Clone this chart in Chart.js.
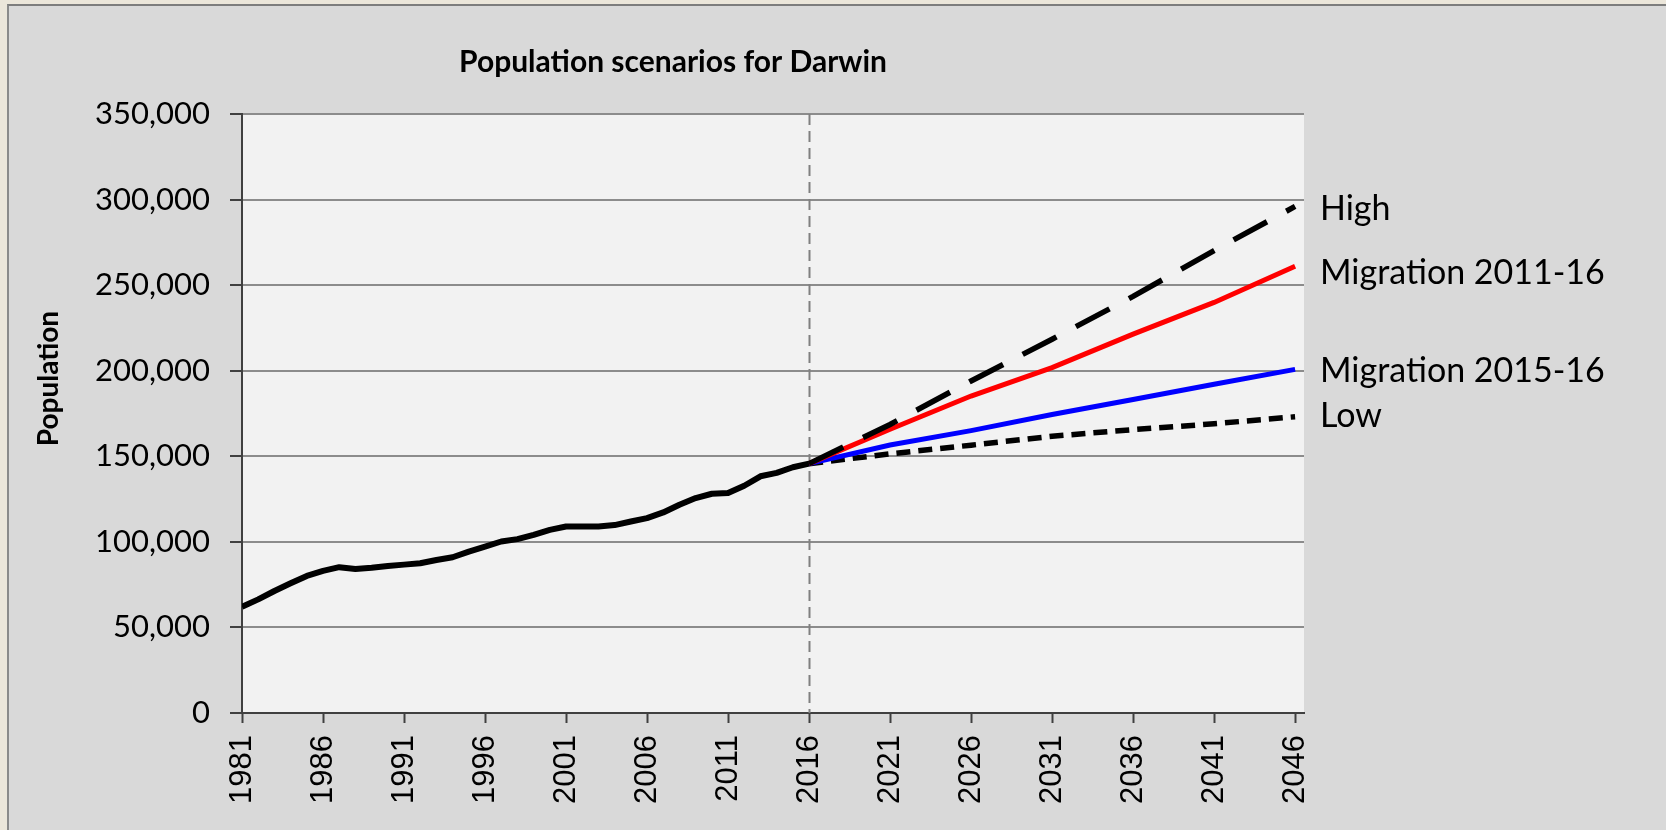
<!DOCTYPE html>
<html>
<head>
<meta charset="utf-8">
<title>Population scenarios for Darwin</title>
<script src="https://cdn.jsdelivr.net/npm/chart.js@4.4.1/dist/chart.umd.min.js"></script>
<style>
  html, body { margin: 0; padding: 0; }
  body {
    width: 1666px; height: 830px; overflow: hidden;
    background: #ebe6da;
    position: relative;
  }
  .panel {
    position: absolute; left: 7px; top: 4px; right: 0; bottom: 0;
    background: #d9d9d9;
    border-top: 2px solid #7d7d7d;
    border-left: 2px solid #8a8a8a;
  }
  .chart-box { position: absolute; left: 0; top: 0; width: 1666px; height: 830px; }
</style>
</head>
<body>
<div class="panel"></div>
<div class="chart-box"><canvas id="chart-darwin"></canvas></div>
<script>
// ---- Data ----
const histYears = [1981, 1982, 1983, 1984, 1985, 1986, 1987, 1988, 1989, 1990, 1991, 1992,
  1993, 1994, 1995, 1996, 1997, 1998, 1999, 2000, 2001, 2002, 2003, 2004, 2005, 2006,
  2007, 2008, 2009, 2010, 2011, 2012, 2013, 2014, 2015, 2016];
const histPopulation = [62100, 66400, 71300, 75800, 80100, 83000, 85200, 84200, 84900, 85900,
  86700, 87500, 89400, 91000, 94300, 97200, 100200, 101600, 104100, 107000, 109000, 109000,
  109000, 109800, 111900, 113900, 117200, 121700, 125600, 128100, 128500, 132800, 138300,
  140300, 143600, 145700];

const projYears = [2016, 2021, 2026, 2031, 2036, 2041, 2046];
const highScenario = [145700, 168600, 194000, 218400, 243400, 270200, 296000];
const migration1116 = [145700, 165800, 185200, 201800, 221400, 239900, 261000];
const migration1516 = [145700, 156600, 165000, 174400, 183200, 192100, 200800];
const lowScenario = [145700, 151400, 156500, 161700, 165600, 169000, 173100];

const xTickYears = [1981, 1986, 1991, 1996, 2001, 2006, 2011, 2016, 2021, 2026, 2031, 2036, 2041, 2046];
const yTicks = [0, 50000, 100000, 150000, 200000, 250000, 300000, 350000];
const forecastStart = 2016;

const seriesLabels = ['High', 'Migration 2011-16', 'Migration 2015-16', 'Low'];

const toPoints = (xs, ys) => xs.map((x, i) => ({ x, y: ys[i] }));

// plot background + dashed 2016 marker
const plotBackground = {
  id: 'plotBackground',
  beforeDraw(chart) {
    const { ctx, chartArea: a } = chart;
    ctx.save();
    ctx.fillStyle = '#f2f2f2';
    ctx.fillRect(a.left, a.top, a.right - a.left, a.bottom - a.top);
    ctx.restore();
  },
  beforeDatasetsDraw(chart) {
    const { ctx, chartArea: a, scales } = chart;
    const x = Math.round(scales.x.getPixelForValue(forecastStart)) + 0.5;
    ctx.save();
    ctx.strokeStyle = '#808080';
    ctx.lineWidth = 2;
    ctx.setLineDash([11, 6]);
    ctx.beginPath();
    ctx.moveTo(x, a.top);
    ctx.lineTo(x, a.bottom);
    ctx.stroke();
    ctx.restore();
  }
};

// y-axis title and the series names at the right of the plot
const sideText = {
  id: 'sideText',
  afterDraw(chart) {
    const { ctx, chartArea: a, scales } = chart;
    ctx.save();
    ctx.fillStyle = '#000';

    // "Population"
    ctx.font = 'bold 28px Lato';
    ctx.textAlign = 'center';
    ctx.textBaseline = 'middle';
    ctx.translate(scales.y.left + 7, (a.top + a.bottom) / 2 - 35);
    ctx.rotate(-Math.PI / 2);
    ctx.fillText('Population', 0, 0);
    ctx.setTransform(1, 0, 0, 1, 0, 0);

    // series names, placed next to each line end
    const ends = [highScenario, migration1116, migration1516, lowScenario].map(s => s[s.length - 1]);
    const nudge = [1, 5, 0, -2];
    const size = 34;
    ctx.font = size + 'px Lato';
    ctx.textAlign = 'left';
    ctx.textBaseline = 'alphabetic';
    seriesLabels.forEach((txt, i) => {
      const yc = scales.y.getPixelForValue(ends[i]) + nudge[i];
      ctx.fillText(txt, a.right + 16, yc + size * 0.36);
    });
    ctx.restore();
  }
};

const canvas = document.getElementById('chart-darwin');

new Chart(canvas, {
  type: 'line',
  data: {
    datasets: [
      {
        label: 'Historical',
        data: toPoints(histYears, histPopulation),
        borderColor: '#000',
        borderWidth: 6,
        borderJoinStyle: 'round',
        order: 0
      },
      {
        label: seriesLabels[0],
        data: toPoints(projYears, highScenario),
        borderColor: '#000',
        borderWidth: 5.5,
        borderDash: [38, 22],
        order: 1
      },
      {
        label: seriesLabels[1],
        data: toPoints(projYears, migration1116),
        borderColor: '#ff0000',
        borderWidth: 5,
        order: 2
      },
      {
        label: seriesLabels[2],
        data: toPoints(projYears, migration1516),
        borderColor: '#0000ff',
        borderWidth: 5,
        order: 3
      },
      {
        label: seriesLabels[3],
        data: toPoints(projYears, lowScenario),
        borderColor: '#000',
        borderWidth: 5.5,
        borderDash: [14, 8],
        order: 4
      }
    ]
  },
  options: {
    responsive: true,
    maintainAspectRatio: false,
    animation: false,
    devicePixelRatio: 1,
    elements: {
      point: { radius: 0, hoverRadius: 0 },
      line: { tension: 0, fill: false }
    },
    layout: { padding: { left: 42, right: 362, top: 0, bottom: 0 } },
    plugins: {
      legend: { display: false },
      tooltip: { enabled: false },
      title: {
        display: true,
        text: 'Population scenarios for Darwin',
        color: '#000',
        font: { family: 'Lato', size: 30, weight: 'bold' },
        padding: { top: 44, bottom: 34 }
      }
    },
    scales: {
      x: {
        type: 'linear',
        min: 1981,
        max: 2046.55,
        afterBuildTicks: axis => { axis.ticks = xTickYears.map(v => ({ value: v })); },
        afterFit: axis => { axis.height = 117; },
        grid: { drawOnChartArea: false, drawTicks: true, tickLength: 10, tickColor: '#404040', tickWidth: 2 },
        border: { color: '#404040', width: 2 },
        ticks: {
          autoSkip: false,
          minRotation: 90,
          maxRotation: 90,
          padding: 12,
          color: '#000',
          font: { family: 'Liberation Sans', size: 31 },
          callback: v => String(v)
        }
      },
      y: {
        min: 0,
        max: 350000,
        afterBuildTicks: axis => { axis.ticks = yTicks.map(v => ({ value: v })); },
        afterFit: axis => { axis.width = 200; },
        grid: { color: '#8c8c8c', lineWidth: 2, tickLength: 12, tickColor: '#404040', tickWidth: 2 },
        border: { color: '#404040', width: 2 },
        ticks: {
          padding: 20,
          color: '#000',
          font: { family: 'Lato', size: 31 },
          callback: v => v.toLocaleString('en-US')
        }
      }
    }
  },
  plugins: [plotBackground, sideText]
});
</script>
</body>
</html>
